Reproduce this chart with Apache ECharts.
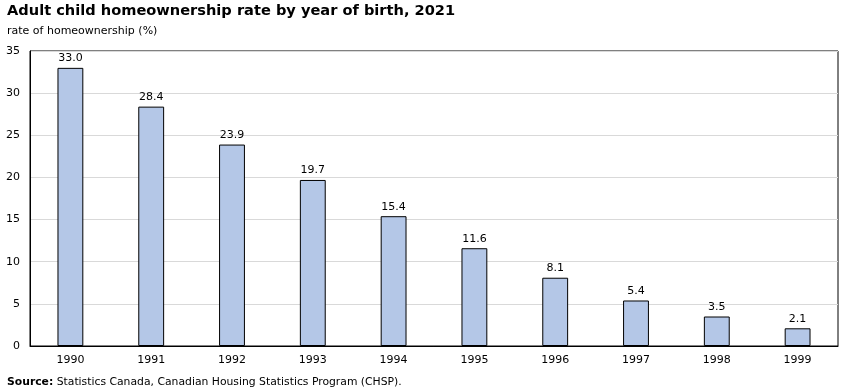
<!DOCTYPE html>
<html><head><meta charset="utf-8">
<script src="https://cdn.jsdelivr.net/npm/echarts@6/dist/echarts.min.js"></script>
<style>html,body{margin:0;padding:0;background:#fff}#c{width:851px;height:392px}</style>
</head><body><div id="c"></div>
<script>
const categories = ['1990','1991','1992','1993','1994','1995','1996','1997','1998','1999'];
const values = [33.0, 28.4, 23.9, 19.7, 15.4, 11.6, 8.1, 5.4, 3.5, 2.1];
const yTicks = [0, 5, 10, 15, 20, 25, 30, 35];

const font = 'DejaVu Sans, Verdana, sans-serif';
const chart = echarts.init(document.getElementById('c'), null, {renderer: 'canvas'});
chart.setOption({
  animation: false,
  textStyle: {fontFamily: font},
  title: [
    {text: 'Adult child homeownership rate by year of birth, 2021', left: 2, top: -1,
     textStyle: {fontFamily: font, fontSize: 14.6, fontWeight: 'bold', color: '#000'}},
    {text: 'rate of homeownership (%)', left: 2, top: 21,
     textStyle: {fontFamily: font, fontSize: 11, fontWeight: 'normal', color: '#000'}},
    {text: '{b|Source:} Statistics Canada, Canadian Housing Statistics Program (CHSP).', left: 2, top: 372,
     textStyle: {fontFamily: font, fontSize: 10.8, fontWeight: 'normal', color: '#000',
       rich: {b: {fontFamily: font, fontSize: 10.8, fontWeight: 'bold', color: '#000'}}}}
  ],
  grid: {left: 30, right: 13, top: 51, bottom: 46, show: true, borderColor: '#000', borderWidth: 1, containLabel: false},
  xAxis: {
    type: 'category', data: categories,
    axisLine: {lineStyle: {color: '#000', width: 1}},
    axisTick: {show: false},
    axisLabel: {color: '#000', fontSize: 11, fontFamily: font, margin: 9}
  },
  yAxis: {
    type: 'value', min: 0, max: yTicks[yTicks.length-1], interval: 5,
    axisLine: {show: true, lineStyle: {color: '#000'}},
    axisTick: {show: false},
    axisLabel: {color: '#000', fontSize: 11, fontFamily: font, margin: 10},
    splitLine: {lineStyle: {color: '#d9d9d9', width: 1}}
  },
  series: [{
    type: 'bar', data: values, barWidth: '32%',
    itemStyle: {color: '#b4c7e7', borderColor: '#000', borderWidth: 1},
    label: {show: true, position: 'top', distance: 4, color: '#000', fontSize: 11, fontFamily: font,
      formatter: p => p.value.toFixed(1)}
  }]
});
</script></body></html>
